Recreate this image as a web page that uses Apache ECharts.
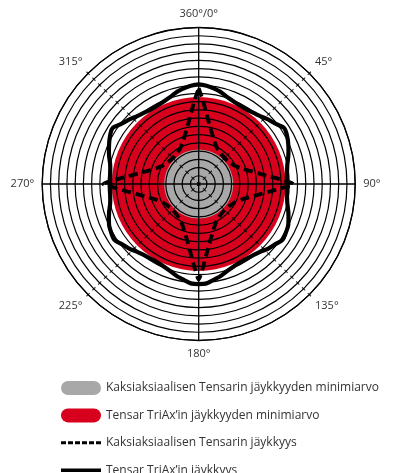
<!DOCTYPE html>
<html>
<head>
<meta charset="utf-8">
<script src="https://cdn.jsdelivr.net/npm/echarts@6/dist/echarts.min.js"></script>
<style>
html,body{margin:0;padding:0;background:#fff;}
#main{width:405px;height:473px;}
</style>
</head>
<body>
<div id="main"></div>
<script>
// ---- data (radius in ring units, angle in degrees, 0 = top, clockwise) ----
const angleTickLabels = ['360°/0°', '45°', '90°', '135°', '180°', '225°', '270°', '315°'];
const seriesNames = [
  'Kaksiaksiaalisen Tensarin jäykkyyden minimiarvo',
  'Tensar TriAx\u2019in jäykkyyden minimiarvo',
  'Kaksiaksiaalisen Tensarin jäykkyys',
  'Tensar TriAx\u2019in jäykkyys'
];
const ringMax = 19;
const biaxialMin = [4.2];
const triaxMin = [10.55];

const triaxAngles = [0,10,20,30,40,50,60,70,80,90,100,110,120,130,140,150,160,170,180,
  190,200,210,220,230,240,250,260,270,280,290,300,310,320,330,340,350,360];
const triaxValues = [12.1,11.7,11.0,10.75,11.0,11.7,12.3,11.6,10.9,10.7,10.9,11.6,12.15,11.7,11.0,10.75,11.0,11.7,12.15,
  11.7,11.0,10.75,11.0,11.7,12.2,11.6,10.9,10.75,10.9,11.6,12.35,11.7,11.0,10.75,11.0,11.7,12.1];

const biaxAngles = [0,3,6,10,15,20,27,35,45,55,63,70,75,80,84,87,
  90,93,96,100,105,110,117,125,135,145,153,160,165,170,174,177,
  180,183,186,190,195,200,207,215,225,235,243,250,255,260,264,267,
  270,273,276,280,285,290,297,305,315,325,333,340,345,350,354,357,360];
const biaxValues = [11.65,10.1,8.7,7.4,6.3,5.55,4.9,4.6,4.45,4.6,4.9,5.55,6.3,7.4,8.7,10.1,
  11.5,10.0,8.7,7.4,6.3,5.55,4.9,4.6,4.45,4.6,4.9,5.55,6.3,7.4,8.7,10.1,
  11.6,10.1,8.7,7.4,6.3,5.55,4.9,4.6,4.45,4.6,4.9,5.55,6.3,7.4,8.7,10.0,
  11.6,10.1,8.7,7.4,6.3,5.55,4.9,4.6,4.45,4.6,4.9,5.55,6.3,7.4,8.7,10.1,11.65];

const tickRings = [0,1,2,3,4,5,6,7,8,9,10,11,12,13,14,15,16,17,18,19];
const tickAngles = [45,135,225,315];

// ---- build ----
const center = [198.7, 184];
const radius = 156.5;
const triaxData = triaxAngles.map((a, i) => [triaxValues[i], a]);
const biaxData = biaxAngles.map((a, i) => [biaxValues[i], a]);
const tickData = [];
tickAngles.forEach(a => tickRings.forEach(r => tickData.push([r, a])));

// legend icons (40 x 14 boxes)
const box = 'M0,0h0.01v0.01h-0.01z M39.99,13.99h0.01v0.01h-0.01z ';
const pill = 'path://M7,0 L33,0 A7,7 0 0 1 33,14 L7,14 A7,7 0 0 1 7,0 Z';
let dashPath = box;
for (let i = 0; i < 6; i++) dashPath += 'M' + (i * 7) + ',5.5h5v3h-5z ';
const dashIcon = 'path://' + dashPath;
const solidIcon = 'path://' + box + 'M0,5.2h40v3.6h-40z';
const font = '"Open Sans", "Noto Sans", sans-serif';

const hiddenAxis = {axisLine: {show: false}, axisTick: {show: false}, axisLabel: {show: false}, splitLine: {show: false}};

const chart = echarts.init(document.getElementById('main'), null, {renderer: 'canvas'});
chart.setOption({
  animation: false,
  backgroundColor: '#fff',
  polar: [
    {center: center, radius: radius},
    {center: center, radius: radius},
    {center: center, radius: radius},
    {center: center, radius: radius}
  ],
  angleAxis: [
    {
      polarIndex: 0, type: 'value', min: 0, max: 360, interval: 90,
      startAngle: 90, clockwise: true, z: 3,
      axisLine: {show: true, lineStyle: {color: '#000', width: 1.3}},
      axisTick: {show: false}, axisLabel: {show: false},
      splitLine: {show: true, lineStyle: {color: '#000', width: 1.3}}
    },
    {
      polarIndex: 1, type: 'value', min: 0, max: 360, interval: 45,
      startAngle: 90, clockwise: true,
      axisLine: {show: false}, axisTick: {show: false}, splitLine: {show: false},
      axisLabel: {
        show: true, margin: 8, color: '#333', fontSize: 11, fontFamily: font,
        formatter: v => (v >= 360 ? '' : angleTickLabels[Math.round(v / 45)])
      }
    },
    Object.assign({polarIndex: 2, type: 'category', data: ['all'], startAngle: 90}, hiddenAxis),
    Object.assign({polarIndex: 3, type: 'category', data: ['all'], startAngle: 90}, hiddenAxis)
  ],
  radiusAxis: [
    {
      polarIndex: 0, type: 'value', min: 0, max: ringMax, interval: 1, z: 3,
      axisLine: {show: false}, axisTick: {show: false}, axisLabel: {show: false},
      splitLine: {show: true, lineStyle: {color: '#000', width: 1.2}}
    },
    Object.assign({polarIndex: 1, type: 'value', min: 0, max: ringMax}, hiddenAxis),
    Object.assign({polarIndex: 2, type: 'value', min: 0, max: ringMax}, hiddenAxis),
    Object.assign({polarIndex: 3, type: 'value', min: 0, max: ringMax}, hiddenAxis)
  ],
  legend: {
    orient: 'vertical', left: 56, top: 376, height: 110, itemGap: 13.4,
    itemWidth: 40, itemHeight: 14,
    textStyle: {color: '#333', fontSize: 12, fontFamily: font},
    data: [
      {name: seriesNames[0], icon: pill},
      {name: seriesNames[1], icon: pill},
      {name: seriesNames[2], icon: dashIcon},
      {name: seriesNames[3], icon: solidIcon}
    ]
  },
  series: [
    {
      name: seriesNames[0], type: 'bar', coordinateSystem: 'polar', polarIndex: 2,
      data: biaxialMin, barWidth: '100%', z: -1,
      itemStyle: {color: '#a8a8a8'}, silent: true
    },
    {
      name: seriesNames[1], type: 'bar', coordinateSystem: 'polar', polarIndex: 3,
      data: triaxMin, barWidth: '100%', z: -2,
      itemStyle: {color: '#d7001d'}, silent: true
    },
    {
      name: seriesNames[2], type: 'line', coordinateSystem: 'polar', polarIndex: 0,
      data: biaxData, symbol: 'none', smooth: 0.2, z: 10,
      lineStyle: {color: '#000', width: 3.8, type: [9, 5]},
      itemStyle: {color: '#000'}
    },
    {
      name: seriesNames[3], type: 'line', coordinateSystem: 'polar', polarIndex: 0,
      data: triaxData, symbol: 'none', smooth: 0.6, z: 11,
      lineStyle: {color: '#000', width: 4.2},
      itemStyle: {color: '#000'}
    },
    {
      name: 'ticks', type: 'scatter', coordinateSystem: 'polar', polarIndex: 0,
      data: tickData, symbol: 'rect', symbolSize: [1.1, 4.5], z: 4,
      symbolRotate: (val) => ((val[1] === 45 || val[1] === 225) ? -45 : 45),
      itemStyle: {color: '#000'}, silent: true
    }
  ]
});
</script>
</body>
</html>
